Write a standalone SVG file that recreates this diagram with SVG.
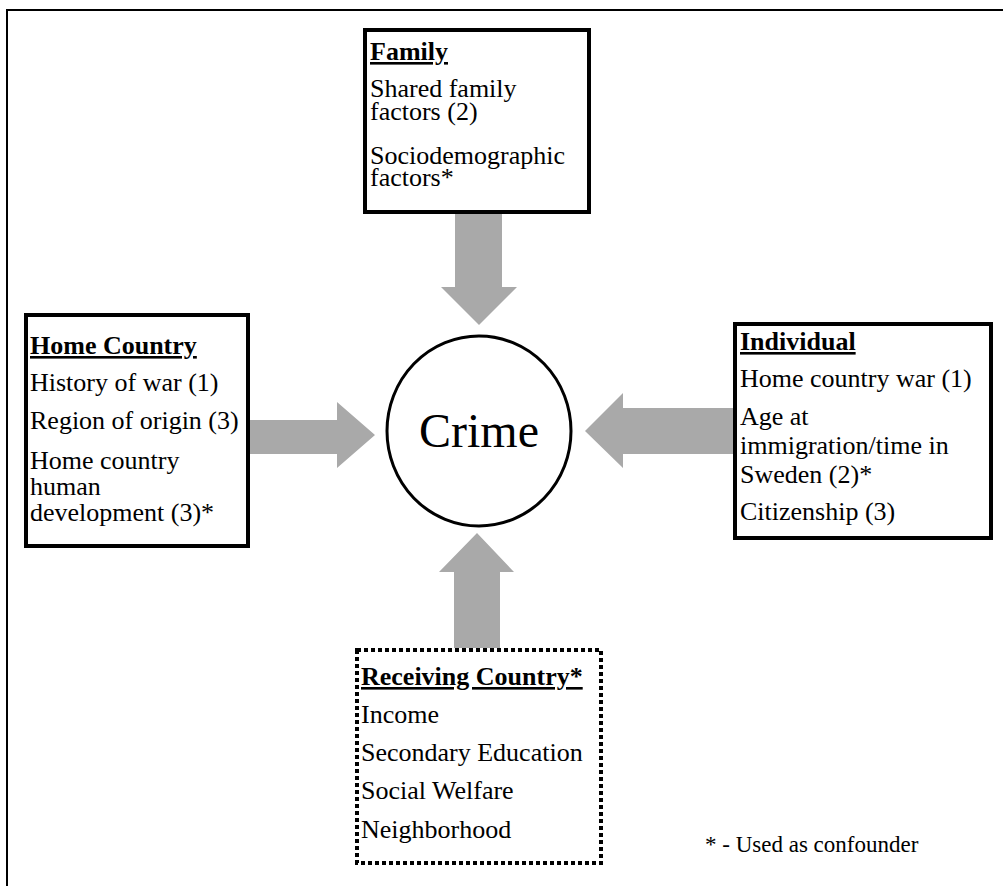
<svg xmlns="http://www.w3.org/2000/svg" width="1003" height="886" viewBox="0 0 1003 886">
<style>
text{font-family:"Liberation Serif","Times New Roman",serif;fill:#000}
.t{font-size:26px}
.h{font-size:26px;font-weight:bold;text-decoration:underline}
.box{fill:#fff;stroke:#000;stroke-width:4}
.dot{fill:#fff;stroke:#000;stroke-width:4;stroke-dasharray:4 3}
.arr{fill:#A9A9A9;stroke:none}
</style>
<rect width="1003" height="886" fill="#fff"/>
<path d="M7,886 V10 H1003" fill="none" stroke="#000" stroke-width="2"/>
<g id="connectors">
<polygon class="arr" points="455,214 502,214 502,287 517,287 479,325 441,287 455,287"/>
<polygon class="arr" points="250,420 337,420 337,402 375,435 337,468 337,454 250,454"/>
<polygon class="arr" points="733,408 623,408 623,393 585,431 623,468 623,454 733,454"/>
<polygon class="arr" points="454,648 454,572 439,572 477,533 514,572 500,572 500,648"/>
</g>
<g id="crime">
<ellipse cx="479" cy="431" rx="92" ry="95" fill="#fff" stroke="#000" stroke-width="3"/>
<text x="479" y="447" font-size="48" text-anchor="middle">Crime</text>
</g>
<g id="family">
<rect class="box" x="365" y="30" width="224" height="182"/>
<text class="h" x="370" y="60">Family</text>
<text class="t" x="370" y="97">Shared family</text>
<text class="t" x="370" y="120">factors (2)</text>
<text class="t" x="370" y="164">Sociodemographic</text>
<text class="t" x="370" y="186">factors*</text>
</g>
<g id="home-country">
<rect class="box" x="26" y="315" width="222" height="231"/>
<text class="h" x="30" y="354">Home Country</text>
<text class="t" x="30" y="391">History of war (1)</text>
<text class="t" x="30" y="429">Region of origin (3)</text>
<text class="t" x="30" y="469">Home country</text>
<text class="t" x="30" y="495">human</text>
<text class="t" x="30" y="521">development (3)*</text>
</g>
<g id="individual">
<rect class="box" x="735" y="324" width="256" height="214"/>
<text class="h" x="740" y="350">Individual</text>
<text class="t" x="740" y="387">Home country war (1)</text>
<text class="t" x="740" y="425">Age at</text>
<text class="t" x="740" y="454">immigration/time in</text>
<text class="t" x="740" y="483">Sweden (2)*</text>
<text class="t" x="740" y="520">Citizenship (3)</text>
</g>
<g id="receiving-country">
<rect class="dot" x="357" y="650" width="244" height="213"/>
<text class="h" x="361" y="685">Receiving Country*</text>
<text class="t" x="361" y="723">Income</text>
<text class="t" x="361" y="761">Secondary Education</text>
<text class="t" x="361" y="799">Social Welfare</text>
<text class="t" x="361" y="838">Neighborhood</text>
</g>
<g id="footnote">
<text x="705" y="852" font-size="23">* - Used as confounder</text>
</g>
</svg>
